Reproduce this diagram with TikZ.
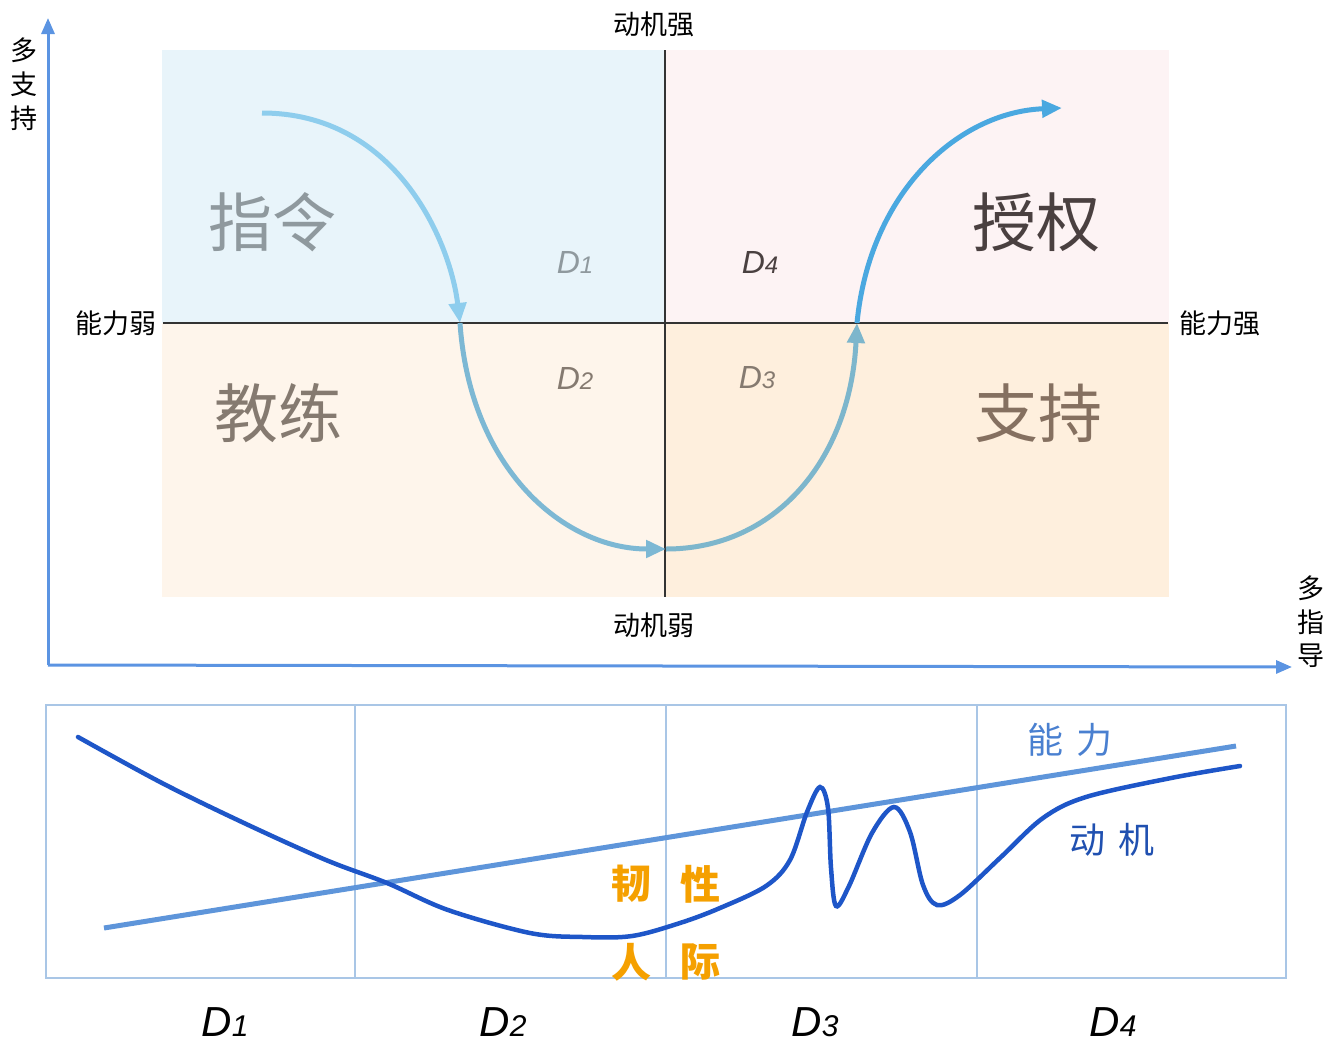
\documentclass[tikz,border=0pt]{standalone}
\usepackage{fontspec}
\newfontfamily\cjk{Noto Sans CJK SC}
\newfontfamily\dfont{Liberation Sans}
\usetikzlibrary{arrows.meta}
\definecolor{qTL}{HTML}{E8F4FA}
\definecolor{qTR}{HTML}{FDF3F4}
\definecolor{qBL}{HTML}{FEF5EB}
\definecolor{qBR}{HTML}{FEEFDD}
\definecolor{axisblue}{HTML}{5B94E2}
\definecolor{cA}{HTML}{8ECDED}
\definecolor{cB}{HTML}{7DB8D4}
\definecolor{cC}{HTML}{7DB6CC}
\definecolor{cD}{HTML}{4AA8E0}
\definecolor{gridblue}{HTML}{A9C6E6}
\definecolor{ablue}{HTML}{5E95DA}
\definecolor{mblue}{HTML}{1E56C8}
\definecolor{lblA}{HTML}{4A80D0}
\definecolor{lblM}{HTML}{2050B0}
\definecolor{orng}{HTML}{F5A000}
\definecolor{gTL}{HTML}{8F999E}
\definecolor{gTR}{HTML}{4A4040}
\definecolor{gBL}{HTML}{857A70}
\definecolor{gBR}{HTML}{857060}
\begin{document}
\begin{tikzpicture}[x=1pt,y=-1pt,
  lab/.style={font=\cjk\fontsize{27}{27}\selectfont, inner sep=0pt, text=black},
  big/.style={font=\cjk\fontsize{64}{64}\selectfont, inner sep=0pt},
  dtop/.style={font=\dfont\itshape, inner sep=0pt},
  dbot/.style={font=\dfont\itshape, inner sep=0pt, text=black},
  axis/.style={draw=axisblue, line width=3pt, -{Triangle[length=16pt,width=13pt]}},
  seg/.style={line width=5pt, -{Triangle[length=20pt,width=17pt]}},
  orl/.style={font=\cjk\bfseries\fontsize{40}{40}\selectfont, text=orng, inner sep=0pt},
]
\useasboundingbox (0,0) rectangle (1328,1045);
% quadrants
\fill[qTL] (162,50) rectangle (665,323);
\fill[qTR] (665,50) rectangle (1169,323);
\fill[qBL] (162,323) rectangle (665,597);
\fill[qBR] (665,323) rectangle (1169,597);
\draw[line width=2.5pt, color=black!80] (163,323) -- (1168,323);
\draw[line width=2.5pt, color=black!80] (665,50) -- (665,597);
% axes
\coordinate (O) at (48,665);
\coordinate (Ytop) at (48,18);
\coordinate (Xend) at (1292,667);
\draw[axis] (O) -- (Ytop);
\draw[axis] (O) -- (Xend);
% axis labels
\node[lab] (ysup1) at (24,50) {多};
\node[lab] (ysup2) at (24,84) {支};
\node[lab] (ysup3) at (24,118) {持};
\node[lab] (xg1) at (1311,588) {多};
\node[lab] (xg2) at (1311,622) {指};
\node[lab] (xg3) at (1311,656) {导};
\node[lab] (mstrong) at (654,24) {动机强};
\node[lab] (mweak) at (654,625) {动机弱};
\node[lab] (aweak) at (116,323) {能力弱};
\node[lab] (astrong) at (1220,323) {能力强};
% quadrant titles
\node[big, text=gTL] (zl) at (272,222) {指令};
\node[big, text=gTR] (sq) at (1036,222) {授权};
\node[big, text=gBL] (jl) at (278,413) {教练};
\node[big, text=gBR] (zc) at (1038,413) {支持};
% D labels top
\node[dtop, text=gTL] (d1t) at (575,262) {\fontsize{32}{32}\selectfont D\fontsize{24}{24}\selectfont 1};
\node[dtop, text=gTR] (d4t) at (760,262) {\fontsize{32}{32}\selectfont D\fontsize{24}{24}\selectfont 4};
\node[dtop, text=gBL] (d2t) at (575,378) {\fontsize{32}{32}\selectfont D\fontsize{24}{24}\selectfont 2};
\node[dtop, text=gBL] (d3t) at (757,378) {\fontsize{32}{32}\selectfont D\fontsize{24}{24}\selectfont 3};
% S curve
\coordinate (p0) at (262,113);
\coordinate (p1) at (460,323);
\coordinate (p2) at (666,549);
\coordinate (p3) at (857,323);
\coordinate (p4) at (1062,108);
\draw[seg, draw=cA] (p0) .. controls (395,113) and (450,240) .. (p1);
\draw[seg, draw=cB] (p1) .. controls (470,470) and (565,549) .. (p2);
\draw[seg, draw=cC] (p2) .. controls (775,549) and (850,460) .. (p3);
\draw[seg, draw=cD] (p3) .. controls (870,190) and (960,112) .. (p4);
% bottom chart
\draw[gridblue, line width=2pt] (46,705) rectangle (1286,978);
\draw[gridblue, line width=1.5pt] (355,705) -- (355,978);
\draw[gridblue, line width=1.5pt] (666,705) -- (666,978);
\draw[gridblue, line width=1.5pt] (977,705) -- (977,978);
\coordinate (a0) at (104,928);
\coordinate (a1) at (1236,746);
\draw[ablue, line width=5pt] (a0) -- (a1);
\draw[mblue, line width=4.5pt, line cap=round] plot[smooth, tension=0.55] coordinates {
 (78,737) (162,783) (244,823) (326,860) (387,883) (448,910) (530,933) (583,937) (632,936) (680,923) (720,908) (766,886) (790,860) (807,812) (820,787) (828,808) (831,868) (836,906) (849,886) (872,833) (894,807) (910,832) (923,885) (937,905) (960,895) (1001,857) (1043,818) (1086,797) (1171,778) (1240,766)};
\node[font=\cjk\fontsize{36}{36}\selectfont, text=lblA, inner sep=0pt] (nl) at (1070,740) {能\hspace{14pt}力};
\node[font=\cjk\fontsize{36}{36}\selectfont, text=lblM, inner sep=0pt] (dj) at (1112,840) {动\hspace{14pt}机};
\node[orl] (r1) at (631,884) {韧};
\node[orl] (r2) at (700,884) {性};
\node[orl] (r3) at (631,962) {人};
\node[orl] (r4) at (700,962) {际};
% bottom D labels
\node[dbot] (d1b) at (225,1022) {\fontsize{42}{42}\selectfont D\fontsize{30}{30}\selectfont 1};
\node[dbot] (d2b) at (503,1022) {\fontsize{42}{42}\selectfont D\fontsize{30}{30}\selectfont 2};
\node[dbot] (d3b) at (815,1022) {\fontsize{42}{42}\selectfont D\fontsize{30}{30}\selectfont 3};
\node[dbot] (d4b) at (1113,1022) {\fontsize{42}{42}\selectfont D\fontsize{30}{30}\selectfont 4};
\end{tikzpicture}
\end{document}
